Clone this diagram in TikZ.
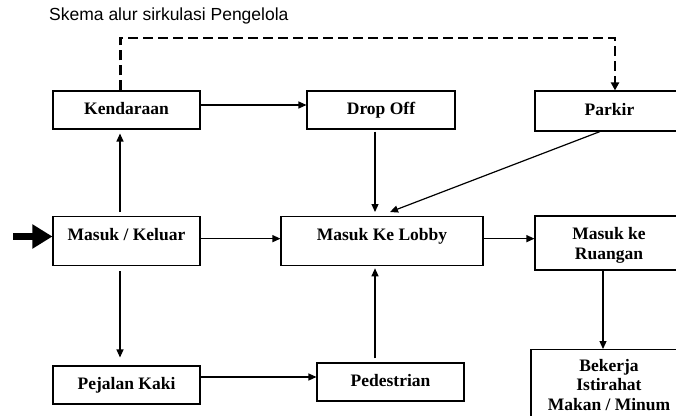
\documentclass[tikz,border=0pt]{standalone}
\usepackage{fontspec}
\setmainfont{Liberation Serif}
\newfontfamily\titlefont{Liberation Sans}
\usetikzlibrary{arrows.meta}
\tikzset{
  frame/.style={draw=black, line width=1.1pt, rectangle, inner sep=0pt},
  box/.style={frame, font=\fontsize{17.5}{20.5}\selectfont\bfseries, text height=12pt, text depth=4pt},
  topbox/.style={box, anchor=north, inner ysep=12pt},
  txt/.style={inner sep=0pt, font=\fontsize{17.5}{20}\selectfont\bfseries, align=center, anchor=north},
  arr/.style={line width=1.2pt, -{Triangle[length=8pt,width=7pt]}},
  dasharr/.style={line width=2.7pt, dash pattern=on 10pt off 5pt, -{Triangle[length=8pt,width=8pt]}},
  bigarr/.style={line width=7pt, -{Triangle[length=20pt,width=23pt]}}
}
\begin{document}
\begin{tikzpicture}[x=1pt,y=-1pt]
\useasboundingbox (0,0) rectangle (676,415);
\clip (0,0) rectangle (676,415);

\node[anchor=base west, font=\titlefont\fontsize{17.5}{20}\selectfont, inner sep=0pt] (title) at (49,20.5) {Skema alur sirkulasi Pengelola};

\node[box, minimum width=147pt, minimum height=38pt] (kend) at (126.5,110) {Kendaraan};
\node[box, minimum width=148pt, minimum height=38pt] (drop) at (381,110) {Drop Off};
\node[box, minimum width=149pt, minimum height=40pt] (park) at (609.5,111) {Parkir};

\node[topbox, minimum width=147pt, text depth=13.2pt] (mk) at (126.5,216) {Masuk / Keluar};
\node[topbox, minimum width=202pt, text depth=13.2pt] (lobby) at (382,216) {Masuk Ke Lobby};

\node[frame, minimum width=148pt, minimum height=54pt] (ruang) at (609,243) {};
\node[txt] (ruangtxt) at (609,227) {Masuk ke\\Ruangan};

\node[frame, minimum width=156pt, minimum height=90pt, anchor=north] (bek) at (609,349) {};
\node[txt, font=\fontsize{17.5}{19.5}\selectfont\bfseries] (bektxt) at (609,359) {Bekerja\\Istirahat\\Makan / Minum};

\node[box, minimum width=147pt, minimum height=38pt] (pej) at (126.5,385) {Pejalan Kaki};
\node[box, minimum width=147pt, minimum height=38pt] (ped) at (390.5,382) {Pedestrian};

% thick input arrow
\coordinate (src) at (13,236.5);
\draw[bigarr] (src) -- (src -| mk.west);

% dashed route
\coordinate (dtop) at (0,38);
\draw[dasharr] ([xshift=-6pt]kend.north) -- ([xshift=-6pt]kend.north |- dtop) -| ([xshift=5.5pt]park.north);

% connectors
\draw[arr] ([xshift=-6.5pt,yshift=4pt]mk.north) -- ([xshift=-6.5pt,yshift=-4pt]kend.south);
\draw[arr] ([yshift=5pt]kend.east) -- ([yshift=5pt]kend.east -| drop.west);
\draw[arr] ([xshift=-6pt,yshift=-2pt]drop.south) -- ([xshift=-7pt,yshift=4pt]lobby.north);
\draw[arr] ([xshift=-9.5pt]park.south) -- ([xshift=8pt,yshift=4pt]lobby.north);
\draw[arr] ([yshift=2.5pt]mk.east) -- ([yshift=2.5pt]mk.east -| lobby.west);
\draw[arr] ([yshift=2.5pt]lobby.east) -- ([yshift=2.5pt]lobby.east -| ruang.west);
\draw[arr] ([xshift=-6pt]ruang.south) -- ([xshift=-6pt]bek.north);
\draw[arr] ([xshift=-6.5pt,yshift=-5pt]mk.south) -- ([xshift=-6.5pt,yshift=8pt]pej.north);
\draw[arr] ([yshift=8pt]pej.east) -- ([yshift=8pt]pej.east -| ped.west);
\draw[arr] ([xshift=-15.5pt,yshift=4pt]ped.north) -- ([xshift=-7pt,yshift=-2pt]lobby.south);
\end{tikzpicture}
\end{document}
